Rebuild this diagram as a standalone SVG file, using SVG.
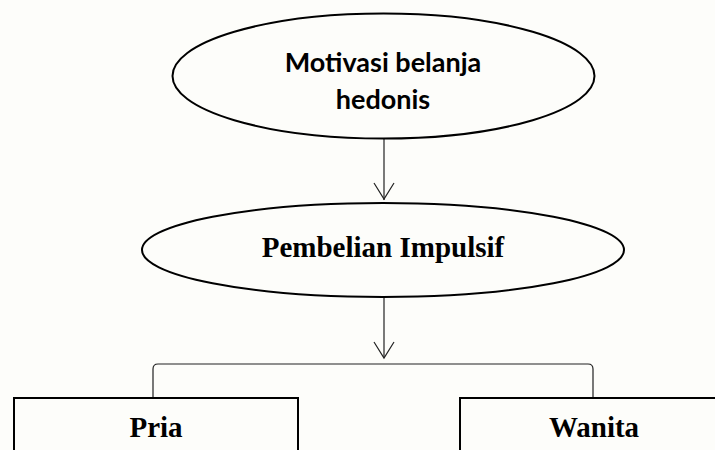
<svg xmlns="http://www.w3.org/2000/svg" width="715" height="450" viewBox="0 0 715 450">
  <defs>
    <style>
      .shape { fill: none; stroke: #000; stroke-width: 2; }
      .conn { fill: none; stroke: #222; stroke-width: 1.2; }
      .sans { font-family: Lato, "Open Sans", "Liberation Sans", sans-serif; font-weight: bold; font-size: 27px; fill: #000; text-anchor: middle; }
      .serif { font-family: "Liberation Serif", "DejaVu Serif", serif; font-weight: bold; font-size: 29px; fill: #000; text-anchor: middle; }
    </style>
  </defs>
  <rect x="0" y="0" width="715" height="450" fill="#fdfdfa"/>

  <g id="connectors">
    <path class="conn" d="M384,138 V200"/>
    <path class="conn" d="M374,183 L384,199 L394,183"/>
    <path class="conn" d="M384,297 V357"/>
    <path class="conn" d="M374,342 L384,358 L394,342"/>
    <path class="conn" stroke-width="1.5" d="M153,398 V369 Q153,364 158,364 H588 Q593,364 593,369 V398"/>
  </g>

  <g id="node-motivasi">
    <ellipse class="shape" cx="383.5" cy="76" rx="211" ry="62.5"/>
    <text class="sans" x="383" y="72">Motivasi belanja</text>
    <text class="sans" x="383" y="109">hedonis</text>
  </g>

  <g id="node-pembelian">
    <ellipse class="shape" cx="383" cy="250" rx="241" ry="47"/>
    <text class="serif" x="383" y="257">Pembelian Impulsif</text>
  </g>

  <g id="node-pria">
    <rect class="shape" x="14" y="398" width="284" height="70"/>
    <text class="serif" x="156" y="437">Pria</text>
  </g>

  <g id="node-wanita">
    <rect class="shape" x="460" y="398" width="284" height="70"/>
    <text class="serif" x="594" y="437">Wanita</text>
  </g>
</svg>
